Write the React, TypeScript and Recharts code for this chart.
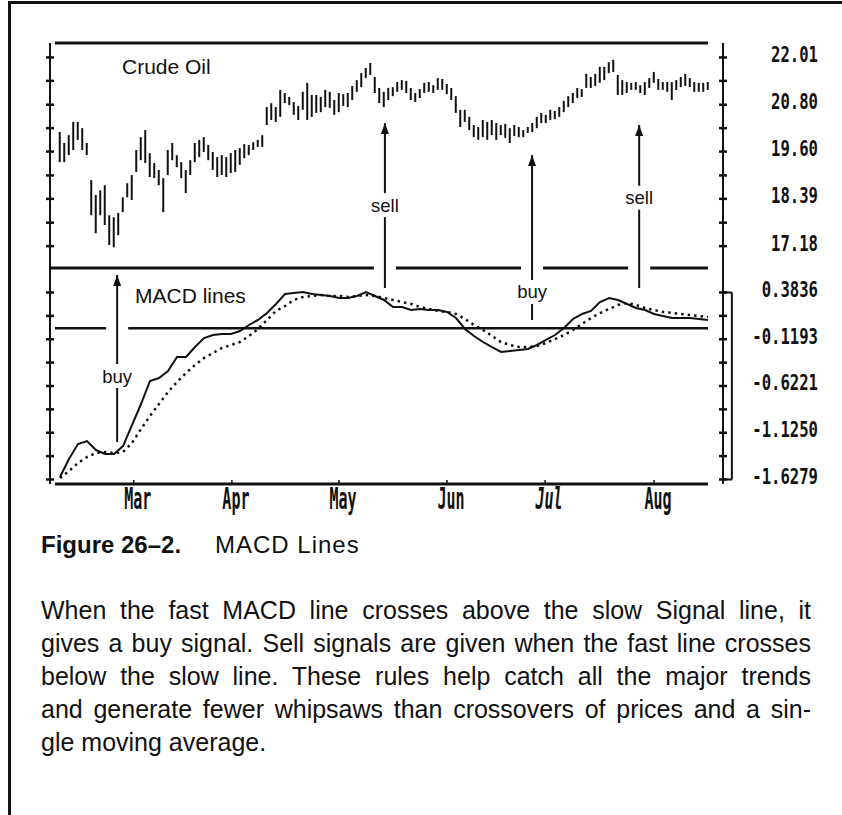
import React from "react"
import { ComposedChart, LineChart, Bar, Line, XAxis, YAxis, ReferenceLine, ReferenceDot } from "recharts"

// crude oil daily bars (one per trading day, day 0 = mid Feb)
const highs = [
  20.10, 19.82, 20.02, 20.36, 20.36, 20.20, 19.82, 18.87, 18.49, 18.61,
  18.74, 17.97, 17.92, 18.03, 18.43, 18.79, 19.00, 19.64, 19.97, 20.15,
  19.56, 19.31, 19.13, 18.92, 19.64, 19.82, 19.51, 19.33, 19.13, 19.38,
  19.82, 19.90, 19.97, 19.77, 19.59, 19.46, 19.51, 19.46, 19.56, 19.64,
  19.69, 19.79, 19.77, 19.84, 19.90, 20.02, 20.74, 20.84, 20.74, 21.18,
  21.10, 21.00, 20.87, 20.77, 21.13, 21.36, 21.05, 21.05, 21.00, 21.18,
  21.13, 20.92, 21.10, 21.07, 21.10, 21.28, 21.43, 21.61, 21.74, 21.87,
  21.51, 21.23, 21.13, 21.23, 21.25, 21.38, 21.43, 21.41, 21.23, 21.10,
  21.20, 21.36, 21.38, 21.30, 21.48, 21.46, 21.33, 21.23, 21.02, 20.67,
  20.67, 20.49, 20.28, 20.23, 20.41, 20.36, 20.41, 20.33, 20.28, 20.31,
  20.20, 20.28, 20.23, 20.15, 20.23, 20.33, 20.49, 20.59, 20.54, 20.67,
  20.64, 20.74, 20.90, 21.02, 21.10, 21.23, 21.20, 21.59, 21.51, 21.59,
  21.77, 21.77, 21.89, 21.95, 21.56, 21.43, 21.38, 21.36, 21.38, 21.30,
  21.38, 21.48, 21.64, 21.46, 21.38, 21.38, 21.38, 21.43, 21.51, 21.59,
  21.48, 21.38, 21.36, 21.36, 21.38,
]
const lows = [
  19.33, 19.33, 19.51, 19.64, 19.90, 19.64, 19.51, 17.97, 17.51, 17.97,
  17.72, 17.21, 17.15, 17.46, 18.05, 18.43, 18.36, 19.08, 19.38, 19.31,
  18.95, 18.92, 18.74, 18.05, 19.00, 19.38, 19.20, 18.92, 18.54, 19.00,
  19.33, 19.46, 19.59, 19.38, 19.13, 18.95, 19.00, 18.95, 19.05, 19.08,
  19.26, 19.43, 19.51, 19.64, 19.72, 19.72, 20.28, 20.41, 20.36, 20.49,
  20.84, 20.79, 20.54, 20.41, 20.67, 20.41, 20.49, 20.59, 20.61, 20.74,
  20.72, 20.54, 20.61, 20.77, 20.74, 20.92, 21.13, 21.25, 21.48, 21.56,
  21.10, 20.84, 20.74, 20.92, 21.02, 21.13, 21.18, 21.10, 20.92, 20.87,
  20.97, 21.10, 21.13, 21.10, 21.18, 21.18, 21.07, 20.92, 20.59, 20.23,
  20.36, 20.15, 19.97, 19.90, 19.97, 19.90, 20.02, 19.90, 20.02, 19.95,
  19.82, 20.00, 19.97, 19.97, 20.08, 20.10, 20.20, 20.33, 20.33, 20.41,
  20.43, 20.49, 20.61, 20.74, 20.84, 20.97, 21.00, 21.23, 21.23, 21.28,
  21.36, 21.43, 21.61, 21.64, 21.05, 21.05, 21.10, 21.18, 21.18, 21.10,
  21.05, 21.23, 21.36, 21.18, 21.18, 21.13, 20.92, 21.18, 21.25, 21.28,
  21.25, 21.13, 21.13, 21.13, 21.18,
]

// MACD lines, read every 2nd day
const macdStep = 2
const fastLine = [
  -1.601, -1.408, -1.246, -1.214, -1.311, -1.354, -1.354, -1.268, -1.042, -0.816,
  -0.568, -0.536, -0.461, -0.310, -0.310, -0.203, -0.106, -0.074, -0.063, -0.063,
  -0.031, 0.034, 0.088, 0.163, 0.260, 0.367, 0.378, 0.389, 0.367, 0.357,
  0.346, 0.324, 0.324, 0.346, 0.389, 0.346, 0.303, 0.228, 0.228, 0.195,
  0.206, 0.195, 0.195, 0.174, 0.109, -0.009, -0.084, -0.149, -0.203, -0.256,
  -0.246, -0.235, -0.224, -0.181, -0.127, -0.074, 0.002, 0.099, 0.152, 0.185,
  0.281, 0.324, 0.303, 0.260, 0.217, 0.195, 0.152, 0.131, 0.109, 0.109,
  0.109, 0.099, 0.088,
]
const slowLine = [
  -1.612, -1.537, -1.451, -1.386, -1.343, -1.332, -1.343, -1.332, -1.235, -1.085,
  -0.945, -0.816, -0.687, -0.579, -0.482, -0.396, -0.321, -0.267, -0.213, -0.181,
  -0.149, -0.084, -0.009, 0.088, 0.185, 0.238, 0.303, 0.335, 0.346, 0.357,
  0.346, 0.346, 0.335, 0.346, 0.357, 0.346, 0.324, 0.303, 0.281, 0.260,
  0.228, 0.206, 0.185, 0.174, 0.152, 0.099, 0.034, -0.020, -0.084, -0.149,
  -0.181, -0.203, -0.203, -0.192, -0.160, -0.117, -0.074, -0.020, 0.045, 0.109,
  0.163, 0.206, 0.249, 0.271, 0.249, 0.217, 0.195, 0.174, 0.163, 0.152,
  0.142, 0.131, 0.120,
]

const priceTicks = [22.01, 21.41, 20.8, 20.2, 19.6, 18.99, 18.39, 17.78, 17.18]
const priceLabels = ["22.01", "20.80", "19.60", "18.39", "17.18"]
const macdTicks = [0.3836, 0.1322, -0.1193, -0.3707, -0.6221, -0.8736, -1.125, -1.3765, -1.6279]
const macdLabels = ["0.3836", "-0.1193", "-0.6221", "-1.1250", "-1.6279"]

const months = ["Mar", "Apr", "May", "Jun", "Jul", "Aug"]
const monthDays = [16.4, 38.2, 62, 86, 107.8, 132]

// crossover arrows; tip either up in the price pane or inside the MACD pane
const signals = [
  { label: "buy", day: 12.7, base: -1.225, tipMacd: 0.572, textMacd: -0.515 },
  { label: "sell", day: 72.2, base: 0.432, tipPrice: 20.33, textPrice: 18.23 },
  { label: "buy", day: 104.9, base: 0.088, tipPrice: 19.51, textMacd: 0.389 },
  { label: "sell", day: 128.7, base: 0.432, tipPrice: 20.28, textPrice: 18.42 },
]

const dayDomain: [number, number] = [-2.22, 147.33]
const priceDomain: [number, number] = [16.62, 22.38]
const macdDomain: [number, number] = [-1.6763, 0.647]
const lineStart = -1.11
const lineEnd = 144

const priceData = highs.map((h, i) => ({ day: i, range: [lows[i], h] }))
const macdData = fastLine.map((v, k) => ({ day: k * macdStep, fast: v, slow: slowLine[k] }))

const INK = "#111"
const MONO = "'DejaVu Sans Mono', monospace"
const SANS = "'Liberation Sans', Arial, sans-serif"

function splitRuns(from: number, to: number, cuts: number[], half = 2.45) {
  const runs: [number, number][] = []
  let start = from
  ;[...cuts].sort((a, b) => a - b).forEach((c) => {
    if (c - half > start) runs.push([start, c - half])
    start = c + half
  })
  if (start < to) runs.push([start, to])
  return runs
}

function axisTick(labels: string[] | null) {
  return (props: any) => {
    const { x, y, payload } = props
    const label = labels ? labels.find((l) => Number(l) === payload.value) : undefined
    return (
      <g>
        <line x1={x - 4} x2={x + 4} y1={y} y2={y} stroke={INK} strokeWidth={2.5} />
        {label && (
          <g transform={`translate(${x + 95}, ${y + 4.5}) scale(1, 1.4)`}>
            <text x={0} y={0} textAnchor="end" fontFamily={MONO} fontWeight="bold" fontSize={15.6} fill={INK}>
              {label}
            </text>
          </g>
        )}
      </g>
    )
  }
}

function MonthTick(props: any) {
  const { x, y, payload } = props
  const label = months[monthDays.indexOf(payload.value)]
  return (
    <g>
      <line x1={x} x2={x} y1={y - 4} y2={y} stroke={INK} strokeWidth={1.5} />
      <g transform={`translate(${x + 4}, ${y + 24.5}) scale(1, 2.05)`}>
        <text x={0} y={0} textAnchor="middle" fontFamily={MONO} fontWeight="bold" fontSize={15}
          fontStyle={label === "Jul" ? "italic" : "normal"} fill={INK}>
          {label}
        </text>
      </g>
    </g>
  )
}

const arrowHead = (p: any) => (
  <path d={`M${p.cx},${p.cy} L${p.cx - 4},${p.cy + 11} L${p.cx + 4},${p.cy + 11} Z`} fill={INK} />
)

const signalText = (label: string) => (p: any) => (
  <g>
    <rect x={p.cx - 20} y={p.cy - 12} width={40} height={24} fill="#fff" />
    <text x={p.cx} y={p.cy + 6.5} textAnchor="middle" fontFamily={SANS} fontSize={18.5} fill={INK}>
      {label}
    </text>
  </g>
)

export default function App() {
  const topCuts = signals.filter((s) => s.tipPrice !== undefined).map((s) => s.day)
  const zeroCuts = signals.filter((s) => s.base < 0 && (s.tipMacd ?? Infinity) > 0).map((s) => s.day)

  return (
    <div style={{ position: "relative", width: 842, height: 815, background: "#fff", overflow: "hidden", fontFamily: SANS, color: INK }}>
      <style>{"body{margin:0}"}</style>
      <div style={{ position: "absolute", left: 7.5, top: 1, width: 3, height: 814, background: INK }} />
      <div style={{ position: "absolute", left: 7.5, top: 1, width: 835, height: 3, background: INK }} />

      {/* price pane */}
      <div style={{ position: "absolute", left: 0, top: 0 }}>
        <ComposedChart width={842} height={270} data={priceData} margin={{ top: 43, right: 9, bottom: 2, left: 40 }}>
          <XAxis type="number" dataKey="day" domain={dayDomain} hide allowDataOverflow />
          <YAxis yAxisId="l" orientation="left" width={10} domain={priceDomain} ticks={priceTicks} allowDataOverflow
            tick={axisTick(null)} tickLine={false} tickSize={0} tickMargin={0} axisLine={{ stroke: INK, strokeWidth: 2 }} />
          <YAxis yAxisId="r" orientation="right" width={110} domain={priceDomain} ticks={priceTicks} allowDataOverflow
            tick={axisTick(priceLabels)} tickLine={false} tickSize={0} tickMargin={0} axisLine={{ stroke: INK, strokeWidth: 2 }} />
          <ReferenceLine yAxisId="r" ifOverflow="visible" stroke={INK} strokeWidth={3}
            segment={[{ x: lineStart, y: priceDomain[1] }, { x: lineEnd, y: priceDomain[1] }]} />
          <Bar yAxisId="r" dataKey="range" barSize={2} fill={INK} isAnimationActive={false} />
          {signals.filter((s) => s.tipPrice !== undefined).map((s, i) => (
            <ReferenceLine key={`pl${i}`} yAxisId="r" ifOverflow="visible" stroke={INK} strokeWidth={2}
              segment={[{ x: s.day, y: priceDomain[0] }, { x: s.day, y: s.tipPrice as number }]} />
          ))}
          {signals.filter((s) => s.tipPrice !== undefined).map((s, i) => (
            <ReferenceDot key={`ph${i}`} yAxisId="r" x={s.day} y={s.tipPrice as number} ifOverflow="visible" shape={arrowHead} />
          ))}
          {signals.filter((s) => s.textPrice !== undefined).map((s, i) => (
            <ReferenceDot key={`pt${i}`} yAxisId="r" x={s.day} y={s.textPrice as number} ifOverflow="visible" shape={signalText(s.label)} />
          ))}
        </ComposedChart>
      </div>

      {/* MACD pane */}
      <div style={{ position: "absolute", left: 0, top: 0 }}>
        <LineChart width={842} height={530} data={macdData} margin={{ top: 268, right: 9, bottom: 16, left: 40 }}>
          <XAxis type="number" dataKey="day" domain={dayDomain} ticks={monthDays} interval={0} height={30} allowDataOverflow
            axisLine={false} tickLine={false} tickSize={0} tickMargin={0} tick={MonthTick} />
          <YAxis yAxisId="l" orientation="left" width={10} domain={macdDomain} ticks={macdTicks} allowDataOverflow
            tick={axisTick(null)} tickLine={false} tickSize={0} tickMargin={0} axisLine={{ stroke: INK, strokeWidth: 2 }} />
          <YAxis yAxisId="r" orientation="right" width={110} domain={macdDomain} ticks={macdTicks} allowDataOverflow
            tick={axisTick(macdLabels)} tickLine={false} tickSize={0} tickMargin={0} axisLine={{ stroke: INK, strokeWidth: 2 }} />
          {/* bottom axis line */}
          <ReferenceLine yAxisId="r" ifOverflow="visible" stroke={INK} strokeWidth={3}
            segment={[{ x: lineStart, y: macdDomain[0] }, { x: lineEnd, y: macdDomain[0] }]} />
          {/* pane divider, broken where arrows pass */}
          {splitRuns(dayDomain[0], lineEnd, topCuts).map(([a, b], i) => (
            <ReferenceLine key={`top${i}`} yAxisId="r" ifOverflow="visible" stroke={INK} strokeWidth={3}
              segment={[{ x: a, y: macdDomain[1] }, { x: b, y: macdDomain[1] }]} />
          ))}
          {/* zero line */}
          {splitRuns(lineStart, lineEnd, zeroCuts).map(([a, b], i) => (
            <ReferenceLine key={`zero${i}`} yAxisId="r" ifOverflow="visible" stroke={INK} strokeWidth={2.5}
              segment={[{ x: a, y: 0 }, { x: b, y: 0 }]} />
          ))}
          {/* scale bracket */}
          <ReferenceLine yAxisId="r" ifOverflow="visible" stroke={INK} strokeWidth={2}
            segment={[{ x: 149.3, y: macdTicks[0] }, { x: 149.3, y: macdTicks[macdTicks.length - 1] }]} />
          <ReferenceLine yAxisId="r" ifOverflow="visible" stroke={INK} strokeWidth={2}
            segment={[{ x: dayDomain[1], y: macdTicks[0] }, { x: 149.3, y: macdTicks[0] }]} />
          <ReferenceLine yAxisId="r" ifOverflow="visible" stroke={INK} strokeWidth={2}
            segment={[{ x: dayDomain[1], y: macdTicks[macdTicks.length - 1] }, { x: 149.3, y: macdTicks[macdTicks.length - 1] }]} />
          {signals.map((s, i) => (
            <ReferenceLine key={`ml${i}`} yAxisId="r" ifOverflow="visible" stroke={INK} strokeWidth={2}
              segment={[{ x: s.day, y: s.base }, { x: s.day, y: s.tipMacd ?? macdDomain[1] }]} />
          ))}
          {signals.filter((s) => s.tipMacd !== undefined).map((s, i) => (
            <ReferenceDot key={`mh${i}`} yAxisId="r" x={s.day} y={s.tipMacd as number} ifOverflow="visible" shape={arrowHead} />
          ))}
          {signals.filter((s) => s.textMacd !== undefined).map((s, i) => (
            <ReferenceDot key={`mt${i}`} yAxisId="r" x={s.day} y={s.textMacd as number} ifOverflow="visible" shape={signalText(s.label)} />
          ))}
          <Line yAxisId="r" type="linear" dataKey="slow" stroke={INK} strokeWidth={2.5} strokeDasharray="2.5 4"
            dot={false} isAnimationActive={false} />
          <Line yAxisId="r" type="linear" dataKey="fast" stroke={INK} strokeWidth={2} dot={false} isAnimationActive={false} />
        </LineChart>
      </div>

      <div style={{ position: "absolute", left: 122, top: 56, fontSize: 21, lineHeight: "21px" }}>Crude Oil</div>
      <div style={{ position: "absolute", left: 135, top: 285, fontSize: 21, lineHeight: "21px" }}>MACD lines</div>

      <div style={{ position: "absolute", left: 41, top: 533, fontSize: 24, lineHeight: "24px", fontWeight: "bold" }}>Figure 26–2.</div>
      <div style={{ position: "absolute", left: 215, top: 533, fontSize: 24, lineHeight: "24px", letterSpacing: 1 }}>MACD Lines</div>

      <div style={{ position: "absolute", left: 41, top: 594, width: 770, fontSize: 25, lineHeight: "33px" }}>
        <div style={{ textAlign: "justify", textAlignLast: "justify" }}>When the fast MACD line crosses above the slow Signal line, it</div>
        <div style={{ textAlign: "justify", textAlignLast: "justify" }}>gives a buy signal. Sell signals are given when the fast line crosses</div>
        <div style={{ textAlign: "justify", textAlignLast: "justify" }}>below the slow line. These rules help catch all the major trends</div>
        <div style={{ textAlign: "justify", textAlignLast: "justify" }}>and generate fewer whipsaws than crossovers of prices and a sin-</div>
        <div>gle moving average.</div>
      </div>
    </div>
  )
}
